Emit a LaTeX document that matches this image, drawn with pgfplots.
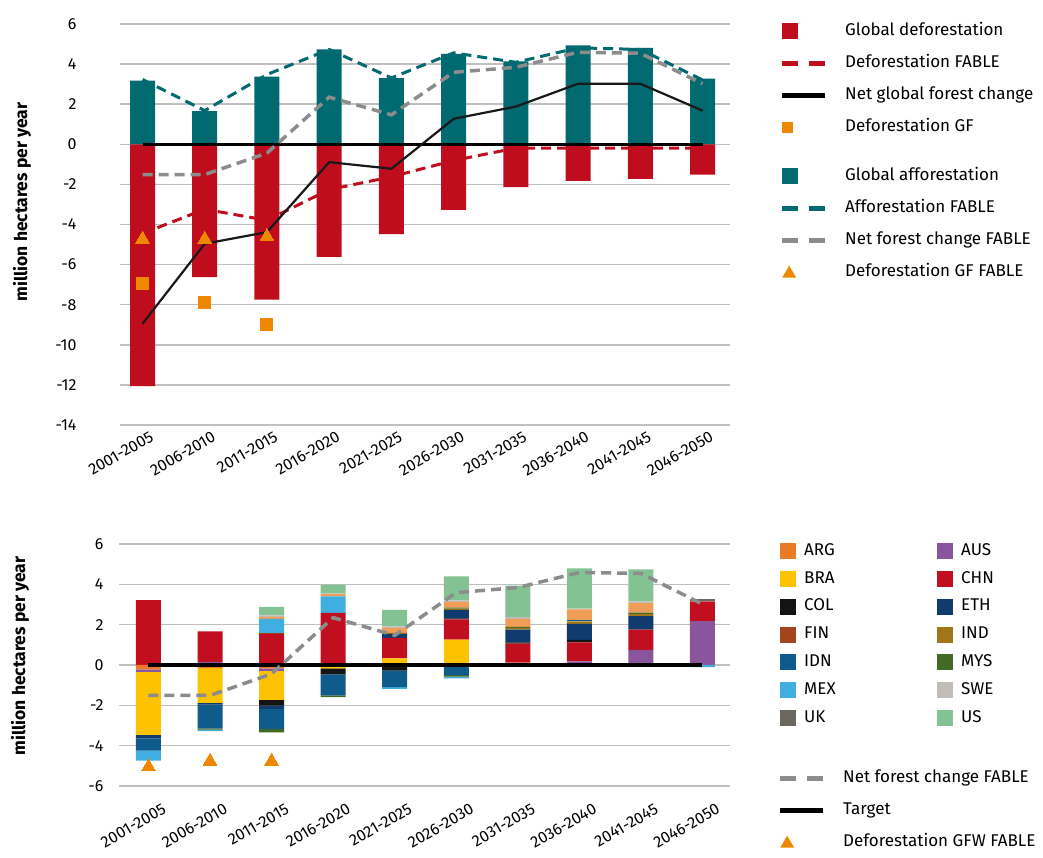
\documentclass[border=0pt]{standalone}
\usepackage{pgfplots}
\pgfplotsset{compat=1.18}
\usepackage{pgfplotstable}
\usepackage{fontspec}
\setmainfont{Fira Sans}

\definecolor{defred}{RGB}{192,13,30}
\definecolor{affteal}{RGB}{0,106,112}
\definecolor{fgray}{RGB}{140,140,140}
\definecolor{gforange}{RGB}{238,136,0}
\definecolor{gridgray}{RGB}{192,192,192}
\definecolor{cARG}{RGB}{233,122,38}
\definecolor{cAUS}{RGB}{139,85,157}
\definecolor{cBRA}{RGB}{253,195,0}
\definecolor{cCHN}{RGB}{193,15,32}
\definecolor{cCOL}{RGB}{20,20,20}
\definecolor{cETH}{RGB}{15,59,110}
\definecolor{cFIN}{RGB}{162,68,28}
\definecolor{cIND}{RGB}{159,119,24}
\definecolor{cIDN}{RGB}{15,91,140}
\definecolor{cMYS}{RGB}{67,106,36}
\definecolor{cMEX}{RGB}{64,174,224}
\definecolor{cOTH}{RGB}{240,157,88}
\definecolor{cSWE}{RGB}{192,188,184}
\definecolor{cUK}{RGB}{108,103,95}
\definecolor{cUS}{RGB}{130,194,147}

\newcommand{\tickfont}{\fontsize{16}{19}\selectfont}
\newcommand{\legfont}{\fontsize{17}{20}\selectfont}
\newcommand{\labfont}{\fontsize{17.5}{21}\selectfont\bfseries}

\newcommand{\legsq}[2]{\addlegendimage{legend image code/.code={\fill[#1, draw=none] (0pt,-8pt) rectangle (16pt,8pt); \path[draw=none, fill=none] (0pt,-8pt) rectangle (#2,8pt);}}}
\newcommand{\legsmallsq}[1]{\addlegendimage{legend image code/.code={\fill[#1, draw=none] (0pt,-5.5pt) rectangle (11pt,5.5pt); \path[draw=none, fill=none] (0pt,-8pt) rectangle (43pt,8pt);}}}
\newcommand{\legline}[1]{\addlegendimage{legend image code/.code={\draw[overlay,#1] (0pt,0pt) -- (43pt,0pt); \path[draw=none, fill=none] (0pt,-8pt) rectangle (43pt,8pt);}}}
\newcommand{\legtri}[1]{\addlegendimage{legend image code/.code={\fill[#1, draw=none] (0pt,-5.5pt) -- (14pt,-5.5pt) -- (7pt,6.5pt) -- cycle; \path[draw=none, fill=none] (0pt,-8pt) rectangle (43pt,8pt);}}}

\pgfplotstableread{
x aff def afffable deffable net netfable gf gffable
0 3.18 -12.06 3.23 -4.45 -8.95 -1.51 -6.92 -4.73
1 1.65 -6.62 1.68 -3.24 -4.96 -1.51 -7.87 -4.73
2 3.38 -7.75 3.48 -3.79 -4.38 -0.44 -8.97 -4.60
3 4.73 -5.61 4.73 -2.26 -0.89 2.35 nan nan
4 3.30 -4.48 3.31 -1.62 -1.22 1.47 nan nan
5 4.51 -3.27 4.56 -0.81 1.27 3.59 nan nan
6 4.14 -2.14 4.09 -0.19 1.88 3.84 nan nan
7 4.93 -1.82 4.81 -0.19 3.02 4.59 nan nan
8 4.81 -1.72 4.73 -0.19 3.02 4.54 nan nan
9 3.28 -1.51 3.21 -0.19 1.68 3.02 nan nan
}\topdata

\pgfplotstableread{
x ARG AUS BRA CHN COL ETH FIN IND IDN MYS MEX OTH SWE UK US
0 0 0 0 3.22 0 0 0 0 0 0 0 0 0 0 0
1 0 0.15 0 1.52 0 0 0 0 0 0 0 0 0 0 0
2 0 0 0 1.54 0 0 0.05 0 0 0 0.70 0.10 0.07 0 0.42
3 0 0 0 2.59 0 0 0 0 0 0 0.81 0.12 0.03 0 0.43
4 0 0 0.33 1.01 0 0.20 0 0.05 0 0 0 0.25 0.07 0 0.82
5 0 0 1.26 1.00 0.05 0.42 0 0.07 0 0.05 0 0.28 0.08 0 1.18
6 0.12 0 0 0.94 0.06 0.64 0 0.08 0 0.05 0 0.40 0.09 0 1.55
7 0.08 0.10 0 0.94 0.12 0.80 0 0.12 0.05 0 0 0.55 0.03 0 2.00
8 0.07 0.68 0 1.00 0 0.67 0 0.10 0 0.08 0 0.47 0.08 0 1.59
9 0 2.18 0 0.97 0 0 0 0 0 0 0 0 0 0.10 0
}\pos

\pgfplotstableread{
x ARG AUS BRA COL ETH IDN MYS MEX
0 -0.22 -0.12 -3.13 0 -0.17 -0.60 0 -0.50
1 -0.15 0 -1.73 0 -0.08 -1.18 -0.06 -0.08
2 -0.17 -0.12 -1.44 -0.28 -0.17 -1.00 -0.16 0
3 -0.05 0 -0.12 -0.30 0 -1.04 -0.08 0
4 0 0 0 -0.28 0 -0.82 0 -0.09
5 0 0 0 0 0 -0.50 -0.08 -0.08
6 0 0 0 0 0 0 0 0
7 0 0 0 0 0 0 0 0
8 0 0 0 0 0 0 0 0
9 0 0 0 0 0 0 0 -0.10
}\negs

\pgfplotstableread{
x net target gfw
0 -1.51 0 -5.05
1 -1.51 0 -4.77
2 -0.44 0 -4.77
3 2.35 0 nan
4 1.47 0 nan
5 3.59 0 nan
6 3.84 0 nan
7 4.59 0 nan
8 4.54 0 nan
9 3.02 0 nan
}\botlines

\pgfplotsset{
  common/.style={
    anchor=south west, scale only axis,
    /pgf/number format/assume math mode=true,
    axis line style={draw=none}, major tick length=0pt,
    ymajorgrids, grid style={draw=gridgray, line width=1.5pt},
    xtick={0,...,9},
    xticklabels={2001-2005,2006-2010,2011-2015,2016-2020,2021-2025,2026-2030,2031-2035,2036-2040,2041-2045,2046-2050},
    yticklabel style={font=\tickfont},
    xticklabel style={font=\tickfont, rotate=30, anchor=north east, inner sep=0pt},
    ylabel={million hectares per year},
    unbounded coords=jump,
  },
}

\begin{document}
\begin{tikzpicture}
\useasboundingbox (0pt,0pt) rectangle (1043pt,858pt);

% ---------------- top chart ----------------
\begin{axis}[common,
  at={(120pt,433pt)}, width=610pt, height=401pt,
  xmin=-0.362, xmax=9.442, ymin=-14, ymax=6,
  ytick={-14,-12,...,6},
  yticklabel style={xshift=-40pt},
  xticklabel style={xshift=3pt, yshift=-8pt},
  ylabel style={font=\labfont, at={(axis description cs:-0.1607,0.556)}, anchor=center},
  legend style={at={(axis description cs:1.0852,1.0025)}, anchor=north west, draw=none, fill=none,
    inner sep=0pt, row sep=16pt, column sep=20pt, font=\legfont,
    nodes={inner sep=0pt, text height=12pt, text depth=4pt}},
  legend cell align=left,
]
\addplot[ybar, bar width=25pt, bar shift=0pt, fill=affteal, draw=none, forget plot] table[x=x,y=aff]{\topdata};
\addplot[ybar, bar width=25pt, bar shift=0pt, fill=defred, draw=none, forget plot] table[x=x,y=def]{\topdata};
\addplot[black, line width=3pt, forget plot] coordinates {(0,0) (1,0) (2,0) (3,0) (4,0) (5,0) (6,0) (7,0) (8,0) (9,0)};
\addplot[defred, line width=3pt, dash pattern=on 10pt off 6pt, forget plot] table[x=x,y=deffable]{\topdata};
\addplot[affteal, line width=3pt, dash pattern=on 10pt off 6pt, forget plot] table[x=x,y=afffable]{\topdata};
\addplot[fgray, line width=3.5pt, dash pattern=on 10pt off 6pt, forget plot] table[x=x,y=netfable]{\topdata};
\addplot[black!90, line width=2.2pt, line join=round, forget plot] table[x=x,y=net]{\topdata};
\addplot[gforange, only marks, mark=square*, mark size=6pt, mark options={fill=gforange, draw=gforange, line width=0pt}, forget plot] table[x=x,y=gf]{\topdata};
\addplot[gforange, only marks, mark=triangle*, mark size=8pt, mark options={fill=gforange, draw=gforange, line width=0pt}, forget plot] table[x=x,y=gffable]{\topdata};

\legsq{defred}{43pt}
\addlegendentry{Global deforestation}
\legline{defred, line width=5pt, dash pattern=on 16pt off 11pt}
\addlegendentry{Deforestation FABLE}
\legline{black, line width=5pt}
\addlegendentry{Net global forest change}
\legsmallsq{gforange}
\addlegendentry{Deforestation GF}
\addlegendimage{empty legend}
\addlegendentry[text height=0pt, text depth=0pt]{}
\legsq{affteal}{43pt}
\addlegendentry{Global afforestation}
\legline{affteal, line width=5pt, dash pattern=on 16pt off 11pt}
\addlegendentry{Afforestation FABLE}
\legline{fgray, line width=5pt, dash pattern=on 16pt off 11pt}
\addlegendentry{Net forest change FABLE}
\legtri{gforange}
\addlegendentry{Deforestation GF FABLE}
\end{axis}

% ---------------- bottom chart: positive stack ----------------
\begin{axis}[common,
  at={(119pt,72pt)}, width=611pt, height=242pt,
  xmin=-0.479, xmax=9.447, ymin=-6, ymax=6,
  ytick={-6,-4,...,6},
  ybar stacked, bar width=25pt,
  yticklabel style={xshift=-12pt},
  xticklabel style={xshift=3pt, yshift=-21pt},
  ylabel style={font=\labfont, at={(axis description cs:-0.162,0.537)}, anchor=center},
  legend columns=2,
  legend style={at={(axis description cs:1.0818,1.0041)}, anchor=north west, draw=none, fill=none,
    inner sep=0pt, row sep=11.8pt, column sep=8pt, font=\legfont,
    nodes={inner sep=0pt, text height=12pt, text depth=4pt, text width=45pt},
    /tikz/every even column/.append style={column sep=88pt}},
  legend cell align=left,
]
\addplot[fill=cARG, draw=none, forget plot] table[x=x,y=ARG]{\pos};
\addplot[fill=cAUS, draw=none, forget plot] table[x=x,y=AUS]{\pos};
\addplot[fill=cBRA, draw=none, forget plot] table[x=x,y=BRA]{\pos};
\addplot[fill=cCHN, draw=none, forget plot] table[x=x,y=CHN]{\pos};
\addplot[fill=cCOL, draw=none, forget plot] table[x=x,y=COL]{\pos};
\addplot[fill=cETH, draw=none, forget plot] table[x=x,y=ETH]{\pos};
\addplot[fill=cFIN, draw=none, forget plot] table[x=x,y=FIN]{\pos};
\addplot[fill=cIND, draw=none, forget plot] table[x=x,y=IND]{\pos};
\addplot[fill=cIDN, draw=none, forget plot] table[x=x,y=IDN]{\pos};
\addplot[fill=cMYS, draw=none, forget plot] table[x=x,y=MYS]{\pos};
\addplot[fill=cMEX, draw=none, forget plot] table[x=x,y=MEX]{\pos};
\addplot[fill=cOTH, draw=none, forget plot] table[x=x,y=OTH]{\pos};
\addplot[fill=cSWE, draw=none, forget plot] table[x=x,y=SWE]{\pos};
\addplot[fill=cUK, draw=none, forget plot] table[x=x,y=UK]{\pos};
\addplot[fill=cUS, draw=none, forget plot] table[x=x,y=US]{\pos};

\legsq{cARG}{16pt}\addlegendentry{ARG}
\legsq{cAUS}{16pt}\addlegendentry{AUS}
\legsq{cBRA}{16pt}\addlegendentry{BRA}
\legsq{cCHN}{16pt}\addlegendentry{CHN}
\legsq{cCOL}{16pt}\addlegendentry{COL}
\legsq{cETH}{16pt}\addlegendentry{ETH}
\legsq{cFIN}{16pt}\addlegendentry{FIN}
\legsq{cIND}{16pt}\addlegendentry{IND}
\legsq{cIDN}{16pt}\addlegendentry{IDN}
\legsq{cMYS}{16pt}\addlegendentry{MYS}
\legsq{cMEX}{16pt}\addlegendentry{MEX}
\legsq{cSWE}{16pt}\addlegendentry{SWE}
\legsq{cUK}{16pt}\addlegendentry{UK}
\legsq{cUS}{16pt}\addlegendentry{US}
\end{axis}

% ---------------- bottom chart: negative stack ----------------
\begin{axis}[
  anchor=south west, scale only axis, hide axis,
  at={(119pt,72pt)}, width=611pt, height=242pt,
  xmin=-0.479, xmax=9.447, ymin=-6, ymax=6,
  ybar stacked, bar width=25pt,
]
\addplot[fill=cARG, draw=none] table[x=x,y=ARG]{\negs};
\addplot[fill=cAUS, draw=none] table[x=x,y=AUS]{\negs};
\addplot[fill=cBRA, draw=none] table[x=x,y=BRA]{\negs};
\addplot[fill=cCOL, draw=none] table[x=x,y=COL]{\negs};
\addplot[fill=cETH, draw=none] table[x=x,y=ETH]{\negs};
\addplot[fill=cIDN, draw=none] table[x=x,y=IDN]{\negs};
\addplot[fill=cMYS, draw=none] table[x=x,y=MYS]{\negs};
\addplot[fill=cMEX, draw=none] table[x=x,y=MEX]{\negs};
\end{axis}

% ---------------- bottom chart: lines ----------------
\begin{axis}[
  anchor=south west, scale only axis, hide axis,
  at={(119pt,72pt)}, width=611pt, height=242pt,
  xmin=-0.479, xmax=9.447, ymin=-6, ymax=6,
  unbounded coords=jump,
  legend style={at={(axis description cs:1.0818,0.066)}, anchor=north west, draw=none, fill=none,
    inner sep=0pt, row sep=16pt, column sep=20pt, font=\legfont,
    nodes={inner sep=0pt, text height=12pt, text depth=4pt}},
  legend cell align=left,
]
\addplot[black, line width=3pt, forget plot] table[x=x,y=target]{\botlines};
\addplot[fgray, line width=3.5pt, dash pattern=on 10pt off 6pt, forget plot] table[x=x,y=net]{\botlines};
\addplot[gforange, only marks, mark=triangle*, mark size=8pt, mark options={fill=gforange, draw=gforange, line width=0pt}, forget plot] table[x=x,y=gfw]{\botlines};

\legline{fgray, line width=5pt, dash pattern=on 16pt off 11pt}
\addlegendentry{Net forest change FABLE}
\legline{black, line width=5pt}
\addlegendentry{Target}
\legtri{gforange}
\addlegendentry{Deforestation GFW FABLE}
\end{axis}
\end{tikzpicture}
\end{document}
